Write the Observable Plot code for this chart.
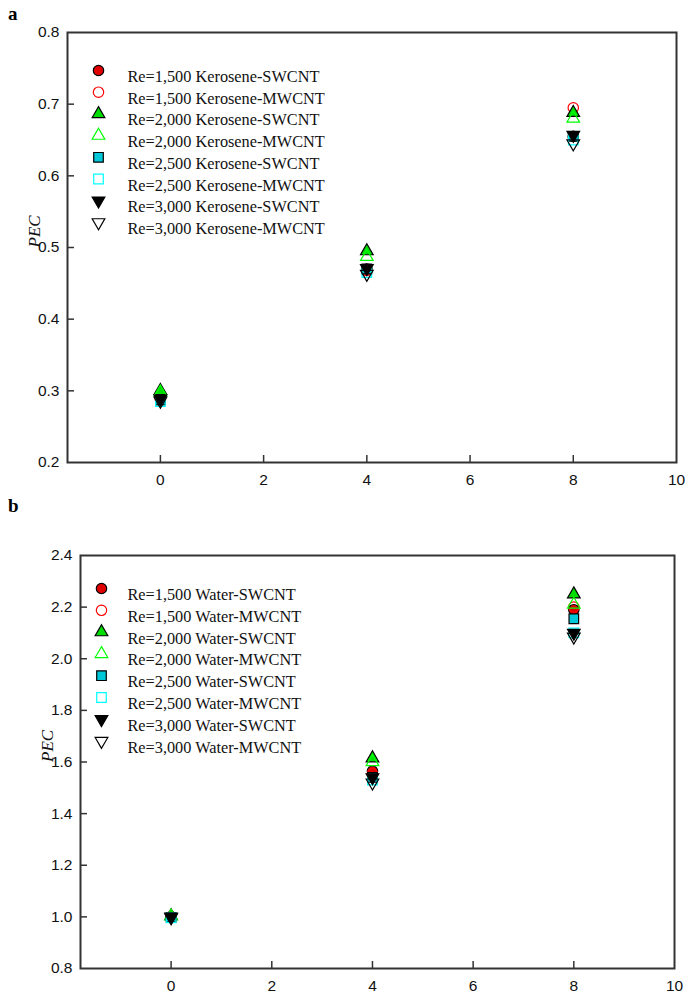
<!DOCTYPE html>
<html><head><meta charset="utf-8">
<script src="https://cdn.jsdelivr.net/npm/d3@7"></script>
<script src="https://cdn.jsdelivr.net/npm/@observablehq/plot@0.6"></script>
<style>
body{margin:0;background:#fff}
#wrap{position:relative;width:685px;height:999px;overflow:hidden}
.lab{position:absolute;font-family:"Liberation Serif",serif;font-weight:bold;font-size:19px;line-height:1}
.pan{position:absolute;left:0}
</style></head>
<body><div id="wrap">
<div id="pa" class="pan" style="top:0px"></div>
<div id="pb" class="pan" style="top:500px"></div>
<div class="lab" style="left:8px;top:4px">a</div>
<div class="lab" style="left:8px;top:496px">b</div>
</div>
<script>
const xValues = [0, 4, 8];
const xTicks = [0, 2, 4, 6, 8, 10];
const yTicksA = [0.2, 0.3, 0.4, 0.5, 0.6, 0.7, 0.8];
const yTicksB = [0.8, 1.0, 1.2, 1.4, 1.6, 1.8, 2.0, 2.2, 2.4];

const labelsA = ["Re=1,500 Kerosene-SWCNT","Re=1,500 Kerosene-MWCNT","Re=2,000 Kerosene-SWCNT","Re=2,000 Kerosene-MWCNT","Re=2,500 Kerosene-SWCNT","Re=2,500 Kerosene-MWCNT","Re=3,000 Kerosene-SWCNT","Re=3,000 Kerosene-MWCNT"];
const labelsB = ["Re=1,500 Water-SWCNT","Re=1,500 Water-MWCNT","Re=2,000 Water-SWCNT","Re=2,000 Water-MWCNT","Re=2,500 Water-SWCNT","Re=2,500 Water-MWCNT","Re=3,000 Water-SWCNT","Re=3,000 Water-MWCNT"];

// Panel a: PEC (kerosene)
const keroRe1500SW = [0.290, 0.470, 0.655];
const keroRe1500MW = [0.288, 0.468, 0.695];
const keroRe2000SW = [0.300, 0.495, 0.688];
const keroRe2000MW = [0.298, 0.487, 0.680];
const keroRe2500SW = [0.287, 0.470, 0.655];
const keroRe2500MW = [0.285, 0.465, 0.650];
const keroRe3000SW = [0.289, 0.471, 0.657];
const keroRe3000MW = [0.286, 0.463, 0.645];

// Panel b: PEC (water)
const waterRe1500SW = [1.000, 1.565, 2.190];
const waterRe1500MW = [1.000, 1.555, 2.200];
const waterRe2000SW = [1.003, 1.615, 2.250];
const waterRe2000MW = [1.002, 1.600, 2.210];
const waterRe2500SW = [0.998, 1.540, 2.155];
const waterRe2500MW = [0.996, 1.530, 2.100];
const waterRe3000SW = [1.000, 1.540, 2.100];
const waterRe3000MW = [0.998, 1.520, 2.085];

const styles = [
  {symbol:"circle", rotate:0, fill:"#e00000", stroke:"#000", r:5.2},
  {symbol:"circle", rotate:0, fill:"none", stroke:"#ff0000", r:5.2},
  {symbol:"triangle", rotate:0, fill:"#00dd00", stroke:"#000", r:4.7},
  {symbol:"triangle", rotate:0, fill:"none", stroke:"#00ff00", r:4.7},
  {symbol:"square", rotate:0, fill:"#00c8d8", stroke:"#000", r:5.4},
  {symbol:"square", rotate:0, fill:"none", stroke:"#00ffff", r:5.4},
  {symbol:"triangle", rotate:180, fill:"#000", stroke:"#000", r:4.7},
  {symbol:"triangle", rotate:180, fill:"none", stroke:"#000", r:4.7}
];

function panel({series, labels, yDomain, yTicks, height, marginLeft, marginRight, marginTop, marginBottom, xDomain, leg}) {
  const fw = 685 - marginLeft - marginRight;
  const fh = height - marginTop - marginBottom;
  const tlY = (yDomain[1] - yDomain[0]) * 7 / fh;
  const tlX = (xDomain[1] - xDomain[0]) * 7 / fw;
  const marks = [
    Plot.ruleX(xTicks.slice(0, -1), {x:d=>d, y1:yDomain[0], y2:yDomain[0] + tlY, stroke:"#333", strokeWidth:1.5}),
    Plot.ruleY(yTicks.slice(1, -1), {y:d=>d, x1:xDomain[0], x2:xDomain[0] + tlX, stroke:"#333", strokeWidth:1.5}),
    Plot.frame({stroke:"#333", strokeWidth:2})
  ];
  series.forEach((vals, i) => {
    const s = styles[i];
    const data = xValues.map((x, j) => ({x, y: vals[j]}));
    marks.push(Plot.dot(data, {x:"x", y:"y", symbol:s.symbol, rotate:s.rotate, fill:s.fill, stroke:s.stroke, r:s.r, strokeWidth:1.2}));
  });
  labels.forEach((lab, i) => {
    const s = styles[i];
    marks.push(Plot.dot([lab], {frameAnchor:"top-left", dx:leg.sx, dy:leg.y0 + i*leg.dy, symbol:s.symbol, rotate:s.rotate, fill:s.fill, stroke:s.stroke, r:s.r, strokeWidth:1.2}));
    marks.push(Plot.text([lab], {frameAnchor:"top-left", dx:leg.tx, dy:leg.y0 + i*leg.dy, text:d=>d, textAnchor:"start", fontFamily:"Liberation Serif", fontSize:16.3, fill:"#111"}));
  });
  marks.push(Plot.axisX(xTicks, {anchor:"bottom", label:null, tickSize:0, tickPadding:11, fontSize:15.5, fontFamily:"Liberation Sans", fill:"#111", tickFormat:d=>String(d)}));
  marks.push(Plot.axisY(yTicks, {anchor:"left", label:null, tickSize:0, tickPadding:8, fontSize:15.5, fontFamily:"Liberation Sans", fill:"#111", tickFormat:d3.format(".1f")}));
  marks.push(Plot.text(["PEC"], {frameAnchor:"left", dx:-33, rotate:-90, text:d=>d, fontFamily:"Liberation Serif", fontStyle:"italic", fontSize:17, fill:"#111"}));
  return Plot.plot({
    width:685, height, marginLeft, marginRight, marginTop, marginBottom,
    style:{background:"transparent", overflow:"visible"},
    x:{domain:xDomain, label:null},
    y:{domain:yDomain, label:null},
    marks
  });
}

document.getElementById("pa").appendChild(panel({
  series:[keroRe1500SW,keroRe1500MW,keroRe2000SW,keroRe2000MW,keroRe2500SW,keroRe2500MW,keroRe3000SW,keroRe3000MW],
  labels:labelsA, yDomain:[0.2,0.8], yTicks:yTicksA, xDomain:[-1.8,10],
  height:500, marginLeft:67, marginRight:9, marginTop:32, marginBottom:38,
  leg:{sx:31, tx:60, y0:38, dy:21.7}
}));
document.getElementById("pb").appendChild(panel({
  series:[waterRe1500SW,waterRe1500MW,waterRe2000SW,waterRe2000MW,waterRe2500SW,waterRe2500MW,waterRe3000SW,waterRe3000MW],
  labels:labelsB, yDomain:[0.8,2.4], yTicks:yTicksB, xDomain:[-1.8,10],
  height:499, marginLeft:80, marginRight:11, marginTop:55, marginBottom:31,
  leg:{sx:21, tx:47, y0:33, dy:21.8}
}));
</script>
</body></html>
